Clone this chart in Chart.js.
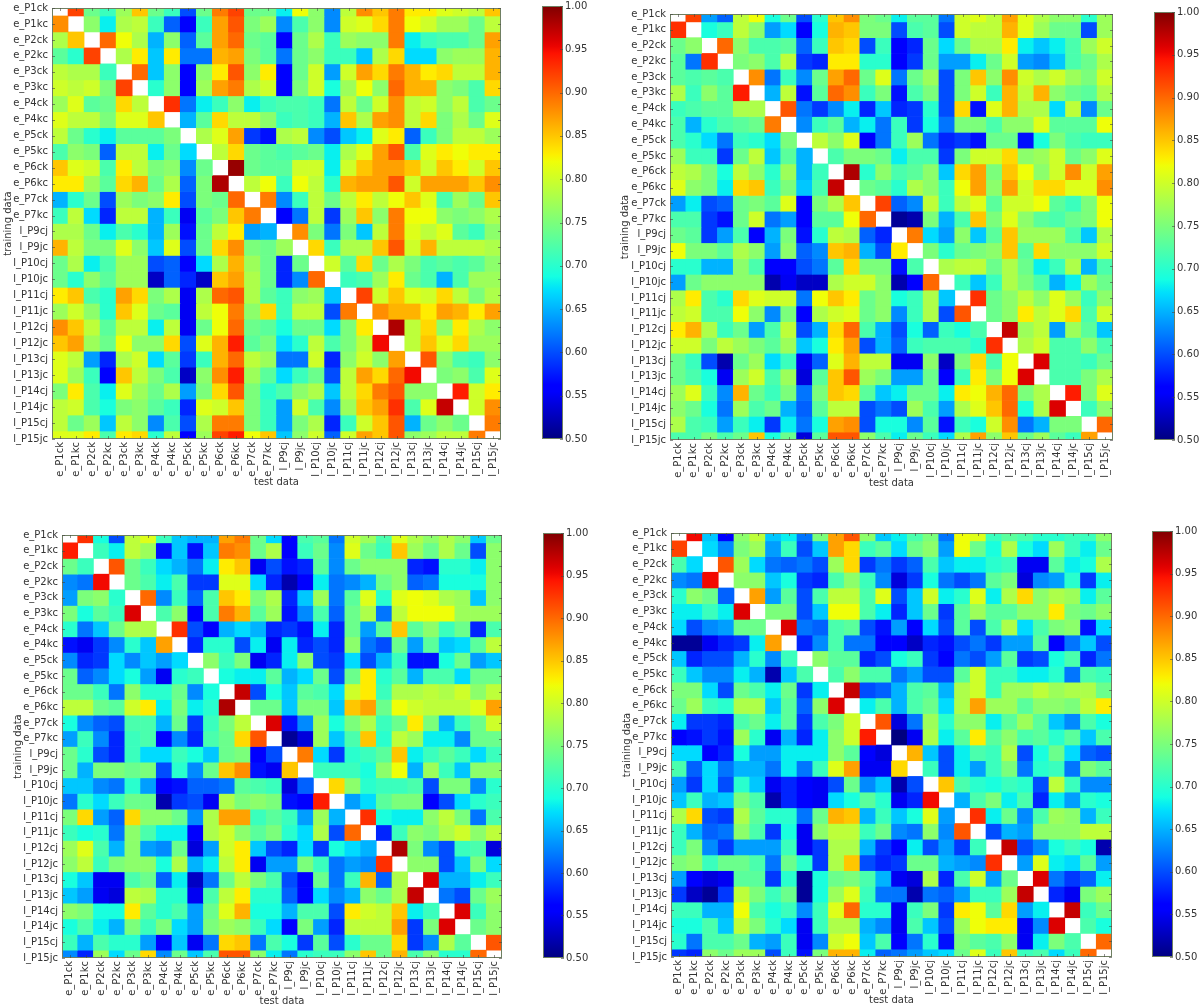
<!DOCTYPE html>
<html lang="en">
<head>
<meta charset="UTF-8">
<title>Training / test data heatmaps</title>
<script src="https://cdn.jsdelivr.net/npm/chart.js"></script>
<style>
    html, body { margin: 0; padding: 0; background: #fff; }
    body { position: relative; width: 1200px; height: 1006px; overflow: hidden; }
    canvas { position: absolute; filter: blur(0.4px); }
</style>
</head>
<body>
<script>
const labels = ['e_P1ck','e_P1kc','e_P2ck','e_P2kc','e_P3ck','e_P3kc','e_P4ck','e_P4kc','e_P5ck','e_P5kc','e_P6ck','e_P6kc','e_P7ck','e_P7kc','l_P9cj','l_P9jc','l_P10cj','l_P10jc','l_P11cj','l_P11jc','l_P12cj','l_P12jc','l_P13cj','l_P13jc','l_P14cj','l_P14jc','l_P15cj','l_P15jc'];
const colorbarTicks = [0.5, 0.55, 0.6, 0.65, 0.7, 0.75, 0.8, 0.85, 0.9, 0.95, 1.0];

// values in percent. null = white diagonal
const panelA = [
[null,92,74,71,77,85,74,71,60,74,89,92,74,74,68,82,76,63,79,88,85,89,83,83,81,80,79,85],
[88,null,76,68,78,79,71,61,56,71,87,91,75,77,63,72,76,63,80,81,84,89,82,80,77,77,74,79],
[78,85,null,90,82,78,65,76,61,73,87,90,74,73,56,74,78,71,77,76,76,89,68,71,72,72,74,87],
[73,70,92,null,78,83,66,83,62,62,86,87,75,73,62,74,76,71,71,66,78,84,67,67,76,77,77,86],
[79,78,78,71,null,90,66,76,56,76,83,91,76,83,56,74,80,64,80,87,84,89,86,83,84,79,79,86],
[80,79,80,75,92,null,70,76,56,77,87,89,78,80,56,75,80,69,77,82,76,90,86,86,76,75,72,84],
[77,81,73,74,84,79,null,93,62,68,71,76,68,71,72,72,71,62,79,74,80,88,79,80,76,79,72,74],
[81,79,79,75,81,81,85,null,65,73,84,79,79,76,71,72,71,65,85,78,87,88,79,84,75,78,74,81],
[79,74,70,68,73,73,73,75,null,78,81,87,59,57,78,79,63,60,66,68,81,83,61,71,75,79,79,77],
[72,76,75,61,79,79,68,74,67,null,79,84,74,73,72,73,74,68,78,81,87,91,72,81,83,82,83,83],
[85,81,80,72,83,79,75,76,63,74,null,99,74,73,73,80,80,68,80,85,87,87,85,80,85,83,80,85],
[83,83,77,73,84,86,74,78,61,75,98,null,79,82,71,82,79,70,86,87,87,91,80,87,87,87,85,88],
[65,70,74,60,77,75,76,83,60,75,74,90,null,89,63,71,79,74,79,83,79,82,85,81,72,77,74,85],
[71,79,67,58,79,79,65,71,55,73,75,85,89,null,56,62,79,59,77,85,76,89,82,82,76,75,76,78],
[78,78,74,68,72,70,65,77,57,74,79,83,64,65,null,88,75,62,75,66,79,89,81,79,81,73,71,76],
[86,79,75,75,81,76,66,81,60,74,84,88,75,74,77,null,84,71,78,78,85,91,80,86,79,79,79,78],
[74,78,68,72,77,77,60,61,56,67,78,86,77,74,58,74,null,80,73,84,74,78,75,72,73,72,73,76],
[74,70,76,73,77,77,53,61,58,53,85,87,78,74,58,63,90,null,71,72,77,83,74,72,65,72,77,77],
[83,85,72,70,87,84,75,78,55,78,90,91,78,73,71,76,77,66,null,92,80,85,81,80,84,79,75,78],
[77,80,76,70,85,81,74,73,55,79,82,89,76,84,71,79,79,60,89,null,88,86,86,83,87,86,83,87],
[88,85,79,73,79,79,68,79,55,74,82,90,74,73,69,74,74,67,75,83,null,98,79,84,76,83,78,76],
[85,87,77,74,82,76,76,84,60,81,86,94,73,75,67,70,79,72,75,79,95,null,79,85,81,84,77,77],
[81,79,64,58,78,80,67,73,59,71,86,90,79,77,62,62,80,58,76,80,76,87,null,91,76,72,71,76],
[81,77,71,56,85,79,75,72,53,76,88,94,77,73,67,71,74,60,79,87,84,90,95,null,75,76,72,81],
[75,83,72,68,81,77,74,78,64,75,84,91,75,70,72,76,78,66,79,84,89,91,76,76,null,94,80,83],
[79,80,72,69,75,76,73,71,58,81,80,85,75,71,64,80,72,63,77,85,87,93,72,81,97,null,80,88],
[79,74,77,66,79,76,63,72,60,78,89,89,75,71,64,75,78,58,71,80,85,91,65,74,76,74,null,89],
[81,81,83,72,83,84,70,79,56,77,92,94,82,85,66,76,80,61,80,87,85,91,76,77,79,79,89,null]
];

const panelB = [
[null,92,64,61,79,82,69,74,60,70,85,88,75,74,68,73,73,62,80,81,79,87,81,78,76,76,70,77],
[93,null,69,71,79,76,64,67,56,69,86,85,75,75,60,72,73,60,80,79,79,86,81,77,74,74,60,77],
[74,76,null,90,76,72,72,73,61,71,85,84,60,71,56,58,74,67,74,78,78,83,68,66,68,72,77,80],
[73,62,93,null,75,76,72,79,59,58,83,83,70,70,56,59,74,64,64,68,74,80,64,63,66,72,74,78],
[73,72,73,72,null,88,62,71,63,74,87,90,74,81,62,74,77,60,75,85,76,88,80,78,80,77,75,80],
[78,71,76,73,94,null,65,79,57,73,90,88,71,75,57,72,75,60,75,80,71,86,79,86,76,74,73,78],
[71,72,73,73,78,78,null,91,62,59,63,68,58,66,58,59,70,60,84,57,81,86,78,78,67,79,63,74],
[72,65,70,72,73,74,89,null,63,71,73,65,68,62,71,59,69,62,75,75,72,76,76,81,73,73,73,82],
[72,70,67,62,71,70,67,75,null,79,76,81,56,62,71,77,62,58,59,57,74,74,57,69,75,72,71,71],
[77,71,71,59,74,79,66,73,65,null,72,75,75,74,68,72,72,59,75,80,80,84,76,77,80,74,76,81],
[79,78,75,69,79,76,70,77,65,71,null,98,70,76,72,73,76,66,84,87,75,85,82,76,80,88,80,87],
[81,76,75,68,84,85,71,75,66,72,97,null,74,73,70,78,76,71,82,87,76,87,80,84,84,81,81,88],
[64,68,60,61,74,75,73,81,56,75,78,85,null,92,61,63,79,71,79,81,73,80,80,82,73,71,75,82],
[72,72,59,57,74,80,62,64,56,73,73,82,90,null,51,52,75,65,72,85,75,81,76,73,72,74,75,82],
[74,73,59,64,72,56,65,75,57,70,79,78,61,58,null,89,67,64,76,66,73,85,77,77,77,72,66,78],
[82,75,75,73,78,76,64,76,61,63,85,86,65,60,83,null,75,70,74,75,76,85,73,84,76,76,76,80],
[70,70,65,65,76,72,56,56,60,62,73,84,75,75,57,72,null,78,79,79,74,78,74,68,71,78,65,72],
[64,74,76,76,76,76,52,55,53,53,78,80,80,76,52,56,90,null,71,66,71,78,75,72,65,68,77,74],
[78,83,72,70,84,81,80,80,62,82,85,83,74,76,69,71,78,66,null,93,74,76,79,76,81,77,71,76],
[79,80,72,72,82,76,63,75,56,78,80,81,74,76,63,71,78,60,91,null,74,76,83,79,81,84,72,80],
[83,86,78,71,74,64,72,79,60,65,84,90,72,65,60,69,61,71,69,72,null,97,77,79,64,77,73,66],
[80,80,75,79,77,75,73,77,66,69,83,87,60,65,61,71,72,72,72,70,93,null,78,80,72,72,76,72],
[74,71,60,52,74,77,67,71,55,61,81,86,79,79,55,55,76,53,75,84,72,82,null,96,72,72,71,74],
[74,72,69,55,77,80,72,77,54,73,85,91,77,75,64,64,74,56,71,83,75,82,96,null,72,72,75,78],
[77,81,71,63,86,74,71,75,62,75,85,84,73,66,68,74,74,68,83,82,86,90,75,78,null,94,75,81],
[76,74,69,62,77,72,74,65,61,73,79,79,60,62,60,77,72,64,78,81,85,90,69,78,96,null,71,76],
[78,72,71,64,71,68,59,68,62,69,87,88,60,69,69,63,73,57,71,69,80,88,62,65,75,75,null,90],
[72,72,75,72,74,85,69,74,54,73,91,91,76,72,68,74,71,67,78,87,76,85,74,77,73,71,87,null]
];

const panelC = [
[null,93,69,60,79,81,71,66,65,65,87,89,74,67,56,72,73,62,80,77,72,81,78,76,78,76,66,74],
[94,null,71,68,79,77,57,66,57,66,89,88,74,78,56,71,74,63,81,74,71,85,77,74,78,74,60,76],
[74,71,null,91,74,71,67,65,62,68,83,85,55,60,57,58,73,63,74,76,76,76,58,57,70,70,68,76],
[63,62,95,null,74,72,68,72,59,59,81,81,67,58,52,56,68,62,63,65,74,76,61,62,69,69,69,76],
[64,75,76,70,null,90,63,71,61,72,85,83,75,78,58,66,77,62,73,81,70,81,82,81,78,77,66,76],
[75,69,73,71,96,null,72,76,56,72,89,86,73,77,57,63,72,61,74,78,62,79,82,82,82,77,77,77],
[70,62,66,74,78,78,null,93,60,56,65,67,65,58,59,57,68,58,74,64,73,85,73,76,71,74,58,72],
[57,55,59,63,70,66,87,null,58,70,70,60,68,55,68,58,60,58,76,62,60,74,64,73,66,67,73,79],
[63,58,59,67,63,66,64,67,null,76,71,75,55,58,68,76,60,59,67,60,65,71,57,57,69,74,64,66],
[74,61,63,67,69,64,55,70,71,null,69,68,68,73,65,67,74,60,74,83,70,73,65,72,72,67,74,74],
[74,74,71,62,76,70,70,74,63,69,null,97,60,69,66,73,72,67,80,83,71,78,78,79,78,80,76,79],
[79,79,74,73,80,83,68,75,68,70,98,null,74,74,66,75,75,66,85,87,74,82,80,79,79,79,81,87],
[69,63,61,60,72,72,65,74,59,71,75,79,null,96,57,63,77,69,75,78,71,74,83,75,65,71,74,80],
[64,71,63,58,71,72,56,63,58,72,74,84,91,null,51,54,77,66,72,85,70,79,77,68,68,63,74,74],
[74,70,60,58,71,67,67,71,69,66,74,75,56,60,null,89,67,59,70,71,73,85,68,71,73,71,67,71],
[74,65,75,75,74,75,60,70,63,74,85,88,57,55,85,null,71,71,71,69,76,82,65,77,71,66,76,76],
[66,66,63,62,70,64,56,57,61,61,62,73,72,71,54,61,null,84,76,70,71,71,72,60,75,75,63,70],
[62,70,67,71,74,74,52,59,60,55,78,75,76,75,57,56,94,null,64,67,73,75,75,56,60,67,70,71],
[75,84,64,61,84,76,76,74,63,78,87,87,71,73,71,64,77,65,null,93,69,68,68,76,79,75,62,72],
[71,69,70,62,76,72,68,68,56,78,80,76,73,75,70,67,78,60,90,null,58,71,76,75,78,80,76,79],
[77,81,72,65,76,64,63,74,54,64,80,83,66,60,58,67,59,69,67,65,null,98,75,63,60,71,72,54],
[76,79,71,75,76,76,69,78,65,68,79,83,55,64,64,75,71,62,64,63,93,null,76,76,60,66,75,67],
[69,66,55,55,72,74,61,68,53,62,74,79,75,72,60,56,74,62,71,86,61,78,null,96,65,65,68,71],
[66,64,55,54,79,78,70,70,55,72,79,83,70,70,61,56,67,63,65,76,74,78,97,null,62,60,74,77],
[76,75,69,69,83,73,70,72,64,74,81,86,69,69,65,72,72,60,83,80,79,85,68,71,null,96,71,76],
[69,72,68,65,75,71,75,67,64,75,77,76,71,67,56,75,64,58,79,79,79,87,59,75,96,null,74,76],
[71,65,72,70,70,64,56,66,55,62,84,85,62,72,69,59,73,60,70,74,74,84,59,63,78,73,null,91],
[63,58,77,67,74,84,63,74,66,72,91,91,76,68,62,70,71,71,76,85,74,86,72,76,70,70,90,null]
];

const panelD = [
[null,95,66,56,76,79,66,68,62,75,87,91,76,66,68,72,75,62,82,81,71,73,72,70,70,71,71,76],
[92,null,67,63,75,77,64,71,60,66,87,84,71,73,67,74,76,64,82,74,69,78,69,67,77,71,68,74],
[72,67,null,91,77,67,62,61,62,60,77,84,59,62,59,61,72,66,68,68,70,71,55,55,73,68,69,78],
[63,62,95,null,76,76,66,69,59,58,72,76,71,63,54,59,69,62,60,62,73,75,54,63,64,70,59,68],
[70,76,74,61,null,87,64,73,60,72,79,79,72,81,60,66,80,68,70,81,68,78,84,76,78,77,68,73],
[68,68,71,68,96,null,75,75,60,66,82,82,72,68,58,66,74,59,73,77,73,73,76,76,83,75,74,76],
[67,60,63,64,74,74,null,96,62,61,72,73,60,57,64,56,67,60,73,60,72,78,67,72,75,76,57,67],
[51,51,55,58,59,68,87,null,58,63,72,62,62,56,56,53,58,57,60,62,59,64,64,73,56,62,66,60],
[66,58,60,60,65,70,63,71,null,76,73,73,58,60,69,71,59,56,62,60,64,73,59,60,69,72,58,62],
[71,66,63,63,68,65,52,66,72,null,72,76,72,72,62,64,60,60,73,80,71,71,68,68,70,62,72,71],
[75,75,67,60,74,72,68,74,59,68,null,97,60,61,65,72,73,65,78,80,71,77,77,79,77,78,78,74],
[74,77,71,70,78,78,66,73,61,76,96,null,68,72,65,72,74,67,78,87,77,77,73,76,76,75,79,83],
[68,59,59,58,72,74,68,73,59,72,75,80,null,91,54,62,77,70,76,76,68,73,77,73,66,63,72,69],
[56,57,59,57,77,70,55,65,58,68,76,80,94,null,50,55,78,68,73,83,73,76,72,73,70,73,66,72],
[67,67,56,58,69,64,64,68,68,68,76,73,56,54,null,86,66,60,68,72,71,78,60,69,74,67,61,60],
[72,61,67,62,65,65,62,68,62,71,81,87,55,55,84,null,71,60,68,64,71,75,62,70,71,62,75,73],
[64,59,67,60,70,66,55,58,56,55,60,74,63,66,52,60,null,85,72,70,69,71,70,60,79,71,63,63],
[66,71,65,66,75,72,52,58,56,55,67,69,73,70,55,58,95,null,65,72,75,68,72,58,68,64,70,69],
[78,84,60,59,78,73,70,70,62,74,86,85,65,71,66,69,81,64,null,93,68,74,63,72,77,76,65,71],
[71,65,61,62,76,72,59,69,55,76,79,79,71,74,63,62,76,63,91,null,60,65,64,76,76,76,79,79],
[71,75,63,59,64,64,64,71,55,59,78,78,65,59,56,68,60,64,59,71,null,97,60,63,69,71,69,52],
[75,76,71,74,74,72,62,74,70,59,78,85,60,58,59,74,74,65,64,63,93,null,64,81,68,67,73,64],
[64,56,54,55,73,73,59,70,51,69,74,75,72,65,55,54,78,58,72,80,64,74,null,96,62,59,61,68],
[59,53,51,59,79,75,71,74,51,69,77,81,71,62,62,52,62,61,64,71,71,77,97,null,58,55,75,77],
[71,71,65,65,82,72,69,71,63,71,81,90,70,70,55,71,75,59,83,82,73,84,64,68,null,97,71,74],
[69,69,72,66,79,75,70,67,55,71,78,78,65,63,55,72,66,60,77,82,83,83,55,63,96,null,72,69],
[70,62,72,72,74,65,64,71,55,63,80,82,66,72,56,62,70,57,75,73,72,76,55,68,75,72,null,90],
[59,58,76,74,77,77,60,71,57,75,86,86,68,61,62,64,66,67,74,81,71,85,71,72,67,71,90,null]
];

const FONT = { family: "'DejaVu Sans', sans-serif", size: 10 };
const INK = '#333333';
const FRAME = '#6f7f62';

// matplotlib jet segments
const JET_R = [[0,0],[0.35,0],[0.66,1],[0.89,1],[1,0.5]];
const JET_G = [[0,0],[0.125,0],[0.375,1],[0.64,1],[0.91,0],[1,0]];
const JET_B = [[0,0.5],[0.11,1],[0.34,1],[0.65,0],[1,0]];

function seg(pts, t) {
    for (let i = 1; i < pts.length; i++) {
        if (t <= pts[i][0]) {
            const f = (t - pts[i-1][0]) / (pts[i][0] - pts[i-1][0]);
            return pts[i-1][1] + f * (pts[i][1] - pts[i-1][1]);
        }
    }
    return pts[pts.length-1][1];
}

function jet(t) {
    t = Math.max(0, Math.min(1, t));
    const c = [JET_R, JET_G, JET_B].map(p => Math.round(255 * seg(p, t)));
    return 'rgb(' + c.join(',') + ')';
}

function addCanvas(x, y, w, h) {
    const c = document.createElement('canvas');
    c.width = w;
    c.height = h;
    c.style.left = x + 'px';
    c.style.top = y + 'px';
    c.style.width = w + 'px';
    c.style.height = h + 'px';
    document.body.appendChild(c);
    return c;
}

// frame and small inward ticks like matplotlib
const frameTicks = {
    id: 'frameTicks',
    afterDatasetsDraw(chart) {
        const { ctx, chartArea: a, scales } = chart;
        const isHeatmap = scales.x.options.display !== false;
        ctx.save();
        ctx.strokeStyle = FRAME;
        ctx.lineWidth = 1;
        ctx.strokeRect(a.left + 0.5, a.top + 0.5, a.right - a.left - 1, a.bottom - a.top - 1);
        ctx.strokeStyle = '#444';
        ctx.globalAlpha = 0.6;
        ctx.beginPath();
        scales.y.ticks.forEach(t => {
            const py = Math.round(scales.y.getPixelForValue(t.value)) + 0.5;
            if (isHeatmap) { ctx.moveTo(a.left, py); ctx.lineTo(a.left + 3, py); }
            ctx.moveTo(a.right - 3, py); ctx.lineTo(a.right, py);
        });
        if (isHeatmap) {
            scales.x.ticks.forEach((t, i) => {
                const px = Math.round(scales.x.getPixelForTick(i)) + 0.5;
                ctx.moveTo(px, a.top); ctx.lineTo(px, a.top + 3);
                ctx.moveTo(px, a.bottom - 3); ctx.lineTo(px, a.bottom);
            });
        }
        ctx.stroke();
        ctx.restore();
    }
};

function drawHeatmap(rows, box) {
    const leftW = box.left - box.cx;
    const pad = 8;
    const xAxisH = 51;
    const canvas = addCanvas(box.cx, box.top - pad, box.right - box.cx + pad, box.bottom - box.top + pad + xAxisH);
    // first and last rows are cut in half by the axis range, as in the picture
    const datasets = rows.map((row, r) => ({
        data: row.map(v => v === null ? null : [r - 0.5, r + 0.5]),
        backgroundColor: row.map(v => v === null ? '#ffffff' : jet((v / 100 - 0.5) / 0.5)),
        borderWidth: 0,
        barPercentage: 1,
        categoryPercentage: 1,
        grouped: false
    }));
    new Chart(canvas, {
        type: 'bar',
        data: { labels: labels, datasets: datasets },
        plugins: [frameTicks],
        options: {
            responsive: false,
            animation: false,
            layout: { padding: { top: pad, right: pad } },
            plugins: { legend: { display: false }, tooltip: { enabled: false } },
            scales: {
                x: {
                    afterFit: s => { s.height = xAxisH; },
                    grid: { display: false, drawTicks: false },
                    border: { display: false },
                    ticks: { autoSkip: false, minRotation: 90, maxRotation: 90, padding: 3, color: INK, font: FONT },
                    title: { display: true, text: 'test data', color: INK, font: FONT, padding: { top: 0, bottom: 2 } }
                },
                y: {
                    reverse: true,
                    min: 0,
                    max: labels.length - 1,
                    afterFit: s => { s.width = leftW; },
                    afterBuildTicks: s => { s.ticks = labels.map((_, i) => ({ value: i })); },
                    grid: { display: false, drawTicks: false },
                    border: { display: false },
                    ticks: {
                        autoSkip: false,
                        padding: 4,
                        color: INK,
                        font: FONT,
                        callback: v => labels[v]
                    },
                    title: { display: true, text: 'training data', color: INK, font: FONT, padding: { top: 2, bottom: 0 } }
                }
            }
        }
    });
}

function drawColorbar(box) {
    const pad = 8;
    const canvas = addCanvas(box.left, box.top - pad, box.right - box.left + 40, box.bottom - box.top + 2 * pad);
    new Chart(canvas, {
        type: 'bar',
        data: {
            labels: [''],
            datasets: [{
                data: [[colorbarTicks[0], colorbarTicks[colorbarTicks.length - 1]]],
                barPercentage: 1,
                categoryPercentage: 1,
                borderWidth: 0,
                backgroundColor(ctx) {
                    const a = ctx.chart.chartArea;
                    if (!a) return '#000';
                    const g = ctx.chart.ctx.createLinearGradient(0, a.bottom, 0, a.top);
                    for (let i = 0; i <= 64; i++) g.addColorStop(i / 64, jet(i / 64));
                    return g;
                }
            }]
        },
        plugins: [frameTicks],
        options: {
            responsive: false,
            animation: false,
            layout: { padding: { top: pad, bottom: pad } },
            plugins: { legend: { display: false }, tooltip: { enabled: false } },
            scales: {
                x: { display: false },
                y: {
                    position: 'right',
                    min: colorbarTicks[0],
                    max: colorbarTicks[colorbarTicks.length - 1],
                    afterFit: s => { s.width = 40; },
                    afterBuildTicks: s => { s.ticks = colorbarTicks.map(v => ({ value: v })); },
                    grid: { display: false, drawTicks: false },
                    border: { display: false },
                    ticks: { autoSkip: false, padding: 2, color: INK, font: { family: FONT.family, size: 10 }, callback: v => v.toFixed(2) }
                }
            }
        }
    });
}

const panels = [
    { rows: panelA, box: { cx: 0,   left: 52,  right: 501,  top: 6,   bottom: 439 }, bar: { left: 542,  right: 563,  top: 6,   bottom: 439 } },
    { rows: panelB, box: { cx: 617, left: 670, right: 1113, top: 12,  bottom: 440 }, bar: { left: 1154, right: 1175, top: 12,  bottom: 440 } },
    { rows: panelC, box: { cx: 10,  left: 62,  right: 502,  top: 533, bottom: 958 }, bar: { left: 543,  right: 564,  top: 533, bottom: 958 } },
    { rows: panelD, box: { cx: 619, left: 671, right: 1112, top: 531, bottom: 957 }, bar: { left: 1152, right: 1173, top: 531, bottom: 957 } }
];

panels.forEach(p => {
    drawHeatmap(p.rows, p.box);
    drawColorbar(p.bar);
});
</script>
</body>
</html>
